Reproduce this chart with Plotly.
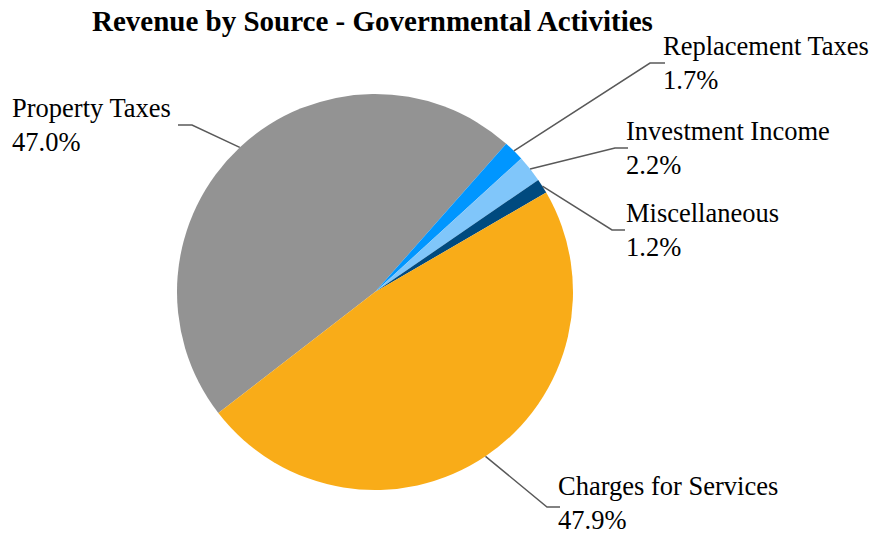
import math
import plotly.graph_objects as go

labels = ["Property Taxes", "Replacement Taxes", "Investment Income", "Miscellaneous", "Charges for Services"]
values = [47.0, 1.7, 2.2, 1.2, 47.9]
colors = ["#939393", "#0096FF", "#80C6FA", "#004A7F", "#F9AC18"]

W, H = 875, 537
CX, CY, R = 375, 292, 198
ROT = 232.3
SERIF = "Liberation Serif, Times New Roman, DejaVu Serif, serif"

# elbow (x, y) and end of horizontal stub for each label (layout)
elbows = {
    "Property Taxes": (192, 125, 178),
    "Replacement Taxes": (650, 63, 665),
    "Investment Income": (615, 148, 628),
    "Miscellaneous": (612, 230, 625),
    "Charges for Services": (547, 507, 560),
}
text_pos = {"Property Taxes": (10, 125), "Replacement Taxes": (661, 63),
            "Investment Income": (624, 148), "Miscellaneous": (624, 230),
            "Charges for Services": (556, 503)}

def px(x):
    return x / W

def py(y):
    return 1 - y / H

fig = go.Figure(go.Pie(
    labels=labels, values=values, sort=False, direction="clockwise", rotation=ROT,
    marker=dict(colors=colors, line=dict(color="white", width=0)),
    textinfo="none", hoverinfo="label+percent", showlegend=False,
    domain=dict(x=[px(CX - R), px(CX + R)], y=[py(CY + R), py(CY - R)]),
))

total = sum(values)
angle = ROT
shapes, annotations = [], []
for lab, v in zip(labels, values):
    span = v / total * 360
    mid = math.radians(angle + span / 2)
    angle += span
    sx = CX + R * math.sin(mid)
    sy = CY - R * math.cos(mid)
    ex, ey, hx = elbows[lab]
    path = f"M {px(sx)},{py(sy)} L {px(ex)},{py(ey)} L {px(hx)},{py(ey)}"
    shapes.append(dict(type="path", xref="paper", yref="paper", path=path,
                       line=dict(color="#595959", width=1.5)))
    tx, ty = text_pos[lab]
    annotations.append(dict(
        x=px(tx), y=py(ty), xref="paper", yref="paper",
        xanchor="left", yanchor="middle", align="left", showarrow=False,
        text=f"{lab}<br>{v:.1f}%",
        font=dict(family=SERIF, size=26.5, color="black"),
    ))

annotations.append(dict(
    x=px(372), y=py(21), xref="paper", yref="paper", xanchor="center", yanchor="middle",
    showarrow=False, text="<b>Revenue by Source - Governmental Activities</b>",
    font=dict(family=SERIF, size=29, color="black"),
))

fig.update_layout(
    width=W, height=H, margin=dict(l=0, r=0, t=0, b=0),
    paper_bgcolor="white", plot_bgcolor="white",
    shapes=shapes, annotations=annotations,
)
fig.write_html("out.html")
